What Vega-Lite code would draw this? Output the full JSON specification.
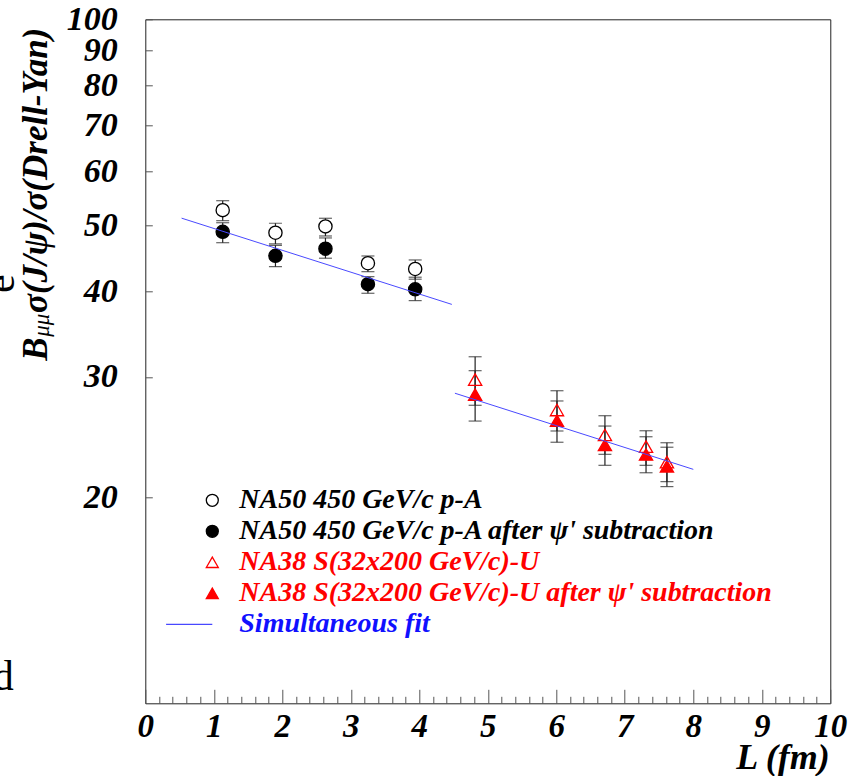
{
  "$schema": "https://vega.github.io/schema/vega-lite/v6.json",
  "width": 685,
  "height": 684,
  "autosize": "none",
  "padding": {"left": 145.3, "top": 19.3, "right": 26, "bottom": 73},
  "background": "white",
  "config": {
    "view": {"stroke": "#222", "strokeWidth": 1},
    "axis": {"grid": false, "domain": false, "labelFont": "Liberation Serif", "titleFont": "Liberation Serif", "labelColor": "black", "titleColor": "black", "tickColor": "#555", "tickWidth": 1}
  },
  "datasets": {
    "pts": [
      {"series": "NA50 450 GeV/c p-A", "L": 1.13, "v": 52.6, "lo": 50.77, "hi": 54.3},
      {"series": "NA50 450 GeV/c p-A", "L": 1.90, "v": 48.75, "lo": 46.94, "hi": 50.33},
      {"series": "NA50 450 GeV/c p-A", "L": 2.63, "v": 49.8, "lo": 48.22, "hi": 51.18},
      {"series": "NA50 450 GeV/c p-A", "L": 3.25, "v": 44.0, "lo": 42.76, "hi": 45.08},
      {"series": "NA50 450 GeV/c p-A", "L": 3.94, "v": 43.15, "lo": 41.69, "hi": 44.48},
      {"series": "NA50 450 GeV/c p-A after ψ' subtraction", "L": 1.13, "v": 48.9, "lo": 47.14, "hi": 50.42},
      {"series": "NA50 450 GeV/c p-A after ψ' subtraction", "L": 1.90, "v": 45.1, "lo": 43.48, "hi": 46.73},
      {"series": "NA50 450 GeV/c p-A after ψ' subtraction", "L": 2.63, "v": 46.2, "lo": 44.74, "hi": 47.9},
      {"series": "NA50 450 GeV/c p-A after ψ' subtraction", "L": 3.25, "v": 41.0, "lo": 39.76, "hi": 42.05},
      {"series": "NA50 450 GeV/c p-A after ψ' subtraction", "L": 3.94, "v": 40.3, "lo": 38.79, "hi": 41.97},
      {"series": "NA38 S(32x200 GeV/c)-U", "L": 4.815, "v": 29.73, "lo": 27.27, "hi": 32.11},
      {"series": "NA38 S(32x200 GeV/c)-U", "L": 6.01, "v": 26.84, "lo": 25.01, "hi": 28.64},
      {"series": "NA38 S(32x200 GeV/c)-U", "L": 6.71, "v": 24.68, "lo": 23.12, "hi": 26.33},
      {"series": "NA38 S(32x200 GeV/c)-U", "L": 7.31, "v": 23.73, "lo": 22.28, "hi": 25.03},
      {"series": "NA38 S(32x200 GeV/c)-U", "L": 7.615, "v": 22.52, "lo": 21.09, "hi": 24.04},
      {"series": "NA38 S(32x200 GeV/c)-U after ψ' subtraction", "L": 4.815, "v": 28.27, "lo": 25.86, "hi": 30.64},
      {"series": "NA38 S(32x200 GeV/c)-U after ψ' subtraction", "L": 6.01, "v": 25.89, "lo": 24.08, "hi": 27.67},
      {"series": "NA38 S(32x200 GeV/c)-U after ψ' subtraction", "L": 6.71, "v": 23.86, "lo": 22.28, "hi": 25.43},
      {"series": "NA38 S(32x200 GeV/c)-U after ψ' subtraction", "L": 7.31, "v": 23.11, "lo": 21.73, "hi": 24.53},
      {"series": "NA38 S(32x200 GeV/c)-U after ψ' subtraction", "L": 7.615, "v": 22.21, "lo": 20.74, "hi": 23.68}
    ],
    "fit": [
      {"seg": "pA", "L": 0.53, "v": 51.2},
      {"seg": "pA", "L": 4.475, "v": 38.3},
      {"seg": "SU", "L": 4.52, "v": 28.4},
      {"seg": "SU", "L": 8.0, "v": 21.98}
    ]
  },
  "resolve": {"axis": {"x": "independent", "y": "independent"}},
  "layer": [
    {
      "data": {"name": "pts"},
      "mark": {"type": "rule", "color": "#222", "strokeWidth": 1.2},
      "encoding": {
        "x": {"field": "L", "type": "quantitative", "scale": {"domain": [0, 10], "nice": false, "zero": false},
          "axis": {"orient": "bottom", "values": [0, 1, 2, 3, 4, 5, 6, 7, 8, 9, 10], "format": "d", "tickSize": -14, "labelFontSize": 33, "labelFontWeight": "bold", "labelFontStyle": "italic", "labelPadding": 21, "labelFlush": false, "labelOverlap": false,
            "title": "L (fm)", "titleFontSize": 36, "titleFontWeight": "bold", "titleFontStyle": "italic", "titleAnchor": "end", "titleAlign": "right", "titleBaseline": "alphabetic", "titleX": 684, "titleY": 65}},
        "y": {"field": "lo", "type": "quantitative", "scale": {"type": "log", "domain": [10, 100], "nice": false},
          "axis": {"orient": "left", "values": [20, 30, 40, 50, 60, 70, 80, 90, 100], "format": "d", "tickSize": -7, "labelFontSize": 34, "labelFontWeight": "bold", "labelFontStyle": "italic", "labelPadding": 35, "labelFlush": false, "labelOverlap": false,
            "title": "B\u2002\u2009σ(J/ψ)/σ(Drell-Yan)", "titleFontSize": 35, "titleFontWeight": "bold", "titleFontStyle": "italic", "titleAngle": 270, "titleAlign": "left", "titleBaseline": "alphabetic", "titleX": -99, "titleY": 341}},
        "y2": {"field": "hi"}
      }
    },
    {
      "data": {"name": "pts"},
      "mark": {"type": "tick", "orient": "horizontal", "size": 13, "thickness": 1.2, "color": "#222"},
      "encoding": {
        "x": {"field": "L", "type": "quantitative", "axis": null},
        "y": {"field": "lo", "type": "quantitative", "axis": null}
      }
    },
    {
      "data": {"name": "pts"},
      "mark": {"type": "tick", "orient": "horizontal", "size": 13, "thickness": 1.2, "color": "#222"},
      "encoding": {
        "x": {"field": "L", "type": "quantitative", "axis": null},
        "y": {"field": "hi", "type": "quantitative", "axis": null}
      }
    },
    {
      "data": {"name": "pts"},
      "mark": {"type": "point", "size": 175, "strokeWidth": 1.3, "opacity": 1},
      "encoding": {
        "x": {"field": "L", "type": "quantitative", "axis": null},
        "y": {"field": "v", "type": "quantitative",
          "axis": {"orient": "left", "labels": false, "ticks": false, "domain": false, "title": "μμ", "titleFontSize": 23, "titleFontWeight": "normal", "titleFontStyle": "italic", "titleAngle": 270, "titleAlign": "left", "titleBaseline": "alphabetic", "titleX": -97, "titleY": 317}},
        "shape": {"field": "series", "type": "nominal",
          "scale": {"domain": ["NA50 450 GeV/c p-A", "NA50 450 GeV/c p-A after ψ' subtraction", "NA38 S(32x200 GeV/c)-U", "NA38 S(32x200 GeV/c)-U after ψ' subtraction", "Simultaneous fit"], "range": ["circle", "circle", "triangle-up", "triangle-up", "M-7.7,0L0,0"]},
          "legend": {"orient": "none", "legendX": 53, "legendY": 467, "title": null, "padding": 0, "symbolSize": 144, "symbolStrokeWidth": 1.3, "labelFont": "Liberation Serif", "labelFontSize": 28, "labelFontWeight": "bold", "labelFontStyle": "italic", "labelOffset": 13, "labelLimit": 800, "rowPadding": 3,
            "labelColor": {"expr": "indexof(datum.label, 'NA38') >= 0 ? '#ff0000' : (datum.label == 'Simultaneous fit' ? '#1010ff' : '#000000')"}}},
        "fill": {"field": "series", "type": "nominal",
          "scale": {"domain": ["NA50 450 GeV/c p-A", "NA50 450 GeV/c p-A after ψ' subtraction", "NA38 S(32x200 GeV/c)-U", "NA38 S(32x200 GeV/c)-U after ψ' subtraction", "Simultaneous fit"], "range": ["white", "black", "transparent", "#ff0000", "transparent"]},
          "legend": {"orient": "none", "legendX": 53, "legendY": 467, "title": null, "padding": 0, "symbolSize": 144, "symbolStrokeWidth": 1.3, "labelFont": "Liberation Serif", "labelFontSize": 28, "labelFontWeight": "bold", "labelFontStyle": "italic", "labelOffset": 13, "labelLimit": 800, "rowPadding": 3,
            "labelColor": {"expr": "indexof(datum.label, 'NA38') >= 0 ? '#ff0000' : (datum.label == 'Simultaneous fit' ? '#1010ff' : '#000000')"}}},
        "stroke": {"field": "series", "type": "nominal",
          "scale": {"domain": ["NA50 450 GeV/c p-A", "NA50 450 GeV/c p-A after ψ' subtraction", "NA38 S(32x200 GeV/c)-U", "NA38 S(32x200 GeV/c)-U after ψ' subtraction", "Simultaneous fit"], "range": ["black", "black", "#ff0000", "#ff0000", "#4848ff"]},
          "legend": {"orient": "none", "legendX": 53, "legendY": 467, "title": null, "padding": 0, "symbolSize": 144, "symbolStrokeWidth": 1.3, "labelFont": "Liberation Serif", "labelFontSize": 28, "labelFontWeight": "bold", "labelFontStyle": "italic", "labelOffset": 13, "labelLimit": 800, "rowPadding": 3,
            "labelColor": {"expr": "indexof(datum.label, 'NA38') >= 0 ? '#ff0000' : (datum.label == 'Simultaneous fit' ? '#1010ff' : '#000000')"}}}
      }
    },
    {
      "data": {"name": "fit"},
      "mark": {"type": "line", "color": "#4848ff", "strokeWidth": 1},
      "encoding": {
        "x": {"field": "L", "type": "quantitative",
          "axis": {"orient": "bottom", "values": [0.2, 0.4, 0.6, 0.8, 1.2, 1.4, 1.6, 1.8, 2.2, 2.4, 2.6, 2.8, 3.2, 3.4, 3.6, 3.8, 4.2, 4.4, 4.6, 4.8, 5.2, 5.4, 5.6, 5.8, 6.2, 6.4, 6.6, 6.8, 7.2, 7.4, 7.6, 7.8, 8.2, 8.4, 8.6, 8.8, 9.2, 9.4, 9.6, 9.8], "labels": false, "tickSize": -7,
            "title": "d", "titleFontSize": 42, "titleFontWeight": "normal", "titleFontStyle": "normal", "titleAlign": "right", "titleBaseline": "alphabetic", "titleX": -132, "titleY": -14}},
        "y": {"field": "v", "type": "quantitative",
          "axis": {"orient": "left", "labels": false, "ticks": false, "domain": false, "title": "e", "titleFontSize": 42, "titleFontWeight": "normal", "titleFontStyle": "normal", "titleAngle": 270, "titleAlign": "center", "titleBaseline": "alphabetic", "titleX": -132, "titleY": 264}},
        "detail": {"field": "seg", "type": "nominal"}
      }
    }
  ]
}
